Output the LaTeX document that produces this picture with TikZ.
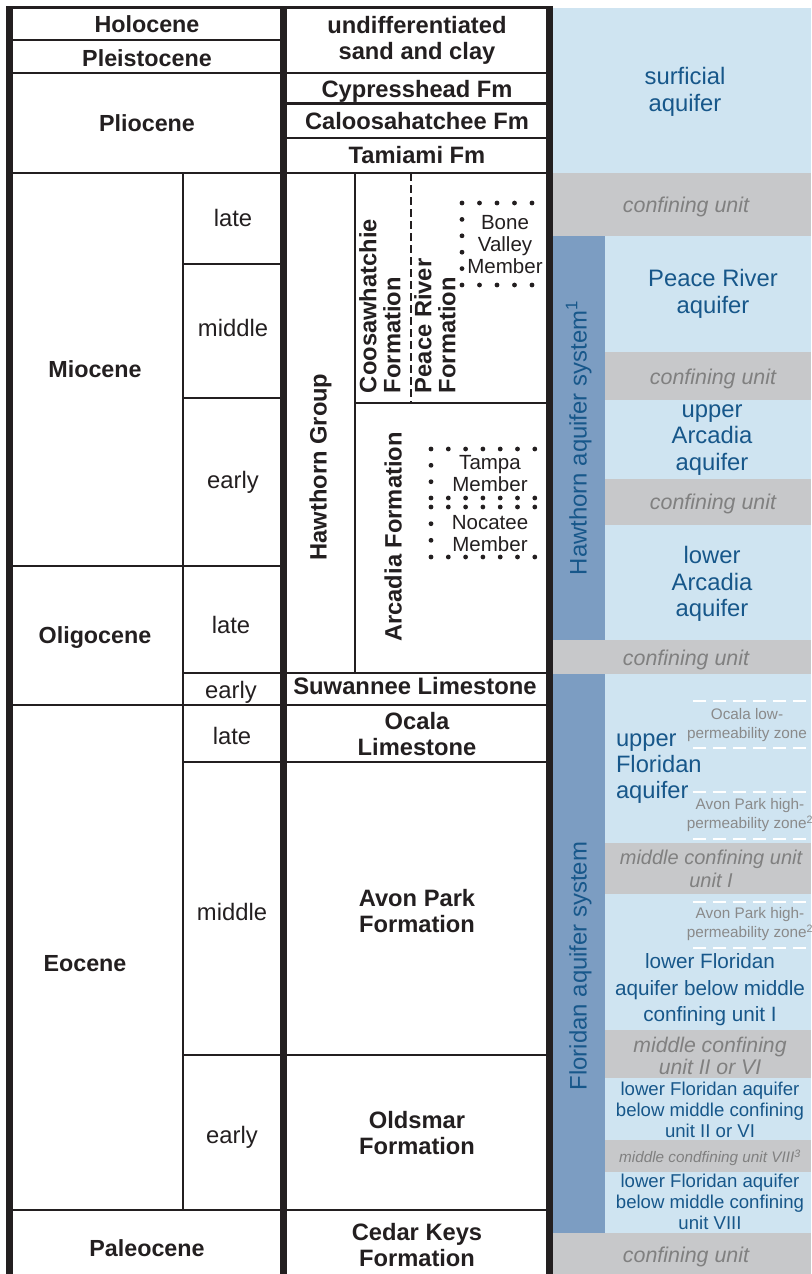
\documentclass[tikz,border=0pt]{standalone}
\usepackage{fontspec}
\setmainfont{Liberation Sans}
\definecolor{ink}{HTML}{231F20}
\definecolor{lb}{HTML}{CFE4F1}
\definecolor{gy}{HTML}{C7C8CA}
\definecolor{barc}{HTML}{7C9DC2}
\definecolor{aqb}{HTML}{17578A}
\definecolor{cgy}{HTML}{808080}
\definecolor{zgy}{HTML}{8A8A8A}
\tikzset{
  every node/.style={inner sep=0pt, outer sep=0pt, text=ink},
  epoch/.style={font=\fontsize{23.3}{27}\selectfont\bfseries, text height=16.7pt, text depth=0pt},
  fmone/.style={font=\fontsize{23.7}{27}\selectfont\bfseries, text height=17pt, text depth=0pt},
  fmtwo/.style={font=\fontsize{23.7}{26}\selectfont\bfseries, align=center},
  fmrot/.style={font=\fontsize{23.7}{24}\selectfont\bfseries, align=left, rotate=90, anchor=west},
  subep/.style={font=\fontsize{23.8}{27}\selectfont, text height=17pt, text depth=0pt},
  memb/.style={font=\fontsize{20.5}{22}\selectfont, align=center},
  aq/.style={font=\fontsize{23.8}{26.5}\selectfont, text=aqb, align=center},
  aqsys/.style={font=\fontsize{23.9}{27}\selectfont, text=aqb, rotate=90, text height=17pt, text depth=0pt},
  conf/.style={font=\fontsize{21.4}{24}\selectfont\itshape, text=cgy, text height=15.4pt, text depth=0pt},
  conftwo/.style={font=\fontsize{#1}{22.5}\selectfont\itshape, text=cgy, align=center},
  zone/.style={font=\fontsize{15.3}{19}\selectfont, text=zgy, align=center},
  lfl/.style={font=\fontsize{18.6}{21}\selectfont, text=aqb, align=center},
  major/.style={draw=ink, line width=2.8pt},
  minor/.style={draw=ink, line width=2pt},
  thickv/.style={draw=ink, line width=7pt},
  wdash/.style={draw=white, line width=2.6pt, dash pattern=on 13pt off 7pt},
  dot/.style={fill=ink}
}
\begin{document}
\begin{tikzpicture}[x=1pt,y=-1pt]
\useasboundingbox (0,0) rectangle (811,1274);
% ---------- hydrogeologic column fills
\fill[lb] (552,8) rectangle (811,173);
\fill[gy] (552,173) rectangle (811,236);
\fill[barc] (552,236) rectangle (605,640);
\fill[lb] (605,236) rectangle (811,352);
\fill[gy] (605,352) rectangle (811,400);
\fill[lb] (605,400) rectangle (811,479);
\fill[gy] (605,479) rectangle (811,525);
\fill[lb] (605,525) rectangle (811,640);
\fill[gy] (552,640) rectangle (811,674);
\fill[barc] (552,674) rectangle (605,1233);
\fill[lb] (605,674) rectangle (811,843);
\fill[gy] (605,843) rectangle (811,894);
\fill[lb] (605,894) rectangle (811,1030);
\fill[gy] (605,1030) rectangle (811,1078);
\fill[lb] (605,1078) rectangle (811,1140);
\fill[gy] (605,1140) rectangle (811,1172);
\fill[lb] (605,1172) rectangle (811,1233);
\fill[gy] (552,1233) rectangle (811,1280);
% white dashed zone limits
\draw[wdash] (693,701) -- (811,701);
\draw[wdash] (693,748) -- (811,748);
\draw[wdash] (693,792) -- (811,792);
\draw[wdash] (693,839) -- (811,839);
\draw[wdash] (693,902) -- (811,902);
\draw[wdash] (693,948) -- (811,948);
% ---------- grid lines
\draw[ink, line width=3pt] (6,7.3) -- (552.5,7.3);
\draw[major] (10,40) -- (283,40);
\draw[major] (10,73) -- (549,73);
\draw[major] (283,103.5) -- (549,103.5);
\draw[major] (283,138) -- (549,138);
\draw[major] (10,173) -- (549,173);
\draw[major] (10,566) -- (283,566);
\draw[major] (10,705) -- (549,705);
\draw[major] (10,1210) -- (549,1210);
\draw[minor] (183,173) -- (183,1210);
\draw[minor] (183,264) -- (283,264);
\draw[minor] (183,398) -- (283,398);
\draw[minor] (183,672.5) -- (549,672.5);
\draw[minor] (183,762) -- (549,762);
\draw[minor] (183,1055) -- (549,1055);
\draw[minor] (355,173) -- (355,672.5);
\draw[minor] (355,402.5) -- (549,402.5);
\draw[ink, line width=2pt, dash pattern=on 8pt off 4pt] (411,173) -- (411,402.5);
\draw[ink, line width=6.5pt] (9.5,6) -- (9.5,1280);
\draw[thickv] (283,6) -- (283,1280);
\draw[thickv] (549,6) -- (549,1280);
% ---------- dotted member boxes
\foreach \x in {462,479.5,497,514.5,532} {\fill[dot] (\x,203) circle (2.4); \fill[dot] (\x,285) circle (2.4);}
\foreach \y in {219.4,235.8,252.2,268.6} {\fill[dot] (462,\y) circle (2.4);}
\foreach \k in {0,...,6} {
  \fill[dot] (431+17.3*\k,449) circle (2.4);
  \fill[dot] (431+17.3*\k,498) circle (2.4);
  \fill[dot] (431+17.3*\k,507) circle (2.4);
  \fill[dot] (431+17.3*\k,557) circle (2.4);}
\foreach \y in {465.3,481.7,523.7,540.3} {\fill[dot] (431,\y) circle (2.4);}
% ---------- epochs
\node[epoch] (holo) at (147,24.5) {Holocene};
\node[epoch] (pleis) at (147,58) {Pleistocene};
\node[epoch] (plio) at (147,123) {Pliocene};
\node[epoch] (mio) at (95,369) {Miocene};
\node[epoch] (oligo) at (95,635) {Oligocene};
\node[epoch] (eoc) at (85,963) {Eocene};
\node[epoch] (paleo) at (147,1248) {Paleocene};
% ---------- sub-epochs
\node[subep] (mlate) at (233,218) {late};
\node[subep] (mmid) at (233,328) {middle};
\node[subep] (mearly) at (233,480) {early};
\node[subep] (olate) at (231,625) {late};
\node[subep] (oearly) at (231,690) {early};
\node[subep] (elate) at (232,736) {late};
\node[subep] (emid) at (232,912) {middle};
\node[subep] (eearly) at (232,1135) {early};
% ---------- formations
\node[fmtwo] (undiff) at (417,40) {undifferentiated\\sand and clay};
\node[fmone] (cyp) at (417,88.5) {Cypresshead Fm};
\node[fmone] (calo) at (417,121) {Caloosahatchee Fm};
\node[fmone] (tami) at (417,155) {Tamiami Fm};
\node[fmone, rotate=90] (hgrp) at (318,467) {Hawthorn Group};
\node[fmrot] (coosa) at (380,393) {Coosawhatchie\\Formation};
\node[fmrot] (peacef) at (435,393) {Peace River\\Formation};
\node[memb] (bone) at (505,245) {Bone\\Valley\\Member};
\node[fmone, rotate=90] (arca) at (393,537) {Arcadia Formation};
\node[memb] (tampa) at (490,474) {Tampa\\Member};
\node[memb] (noca) at (490,534) {Nocatee\\Member};
\node[fmone, font=\fontsize{23.8}{27}\selectfont\bfseries] (suw) at (415,686) {Suwannee Limestone};
\node[fmtwo] (ocala) at (417,734) {Ocala\\Limestone};
\node[fmtwo] (avon) at (417,911) {Avon Park\\Formation};
\node[fmtwo] (olds) at (417,1133) {Oldsmar\\Formation};
\node[fmtwo] (cedar) at (417,1245) {Cedar Keys\\Formation};
% ---------- hydrogeologic units
\node[aq] (surf) at (685,92) {surficial\\aquifer};
\node[conf] (conf1) at (686,205) {confining unit};
\node[aqsys] (hasys) at (578,438) {Hawthorn aquifer system\textsuperscript{1}};
\node[aq] (praq) at (713,294) {Peace River\\aquifer};
\node[conf] (conf2) at (713,377) {confining unit};
\node[aq] (uarc) at (712,440) {upper\\Arcadia\\aquifer};
\node[conf] (conf3) at (713,502) {confining unit};
\node[aq] (larc) at (712,584) {lower\\Arcadia\\aquifer};
\node[conf] (conf4) at (686,658) {confining unit};
\node[aqsys] (fasys) at (578,966) {Floridan aquifer system};
\node[aq, align=left, anchor=west, font=\fontsize{23.7}{26}\selectfont] (ufl) at (616,769) {upper\\Floridan\\aquifer};
\node[zone] (ocz) at (747,725) {Ocala low-\\permeability zone};
\node[zone] (apz1) at (750,815) {Avon Park high-\\permeability zone\textsuperscript{2}};
\node[conftwo=20] (mcu1) at (711,869) {middle confining unit\\unit I};
\node[zone] (apz2) at (750,924) {Avon Park high-\\permeability zone\textsuperscript{2}};
\node[aq, font=\fontsize{20.7}{26.5}\selectfont] (lfl1) at (710,990) {lower Floridan\\aquifer below middle\\confining unit I};
\node[conftwo=21.2] (mcu2) at (710,1056) {middle confining\\unit II or VI};
\node[lfl] (lfl2) at (710,1110) {lower Floridan aquifer\\below middle confining\\unit II or VI};
\node[conf, font=\fontsize{15.3}{18}\selectfont\itshape, text height=11pt] (mcu8) at (710,1157) {middle condfining unit VIII\textsuperscript{3}};
\node[lfl] (lfl8) at (710,1202) {lower Floridan aquifer\\below middle confining\\unit VIII};
\node[conf] (conf5) at (686,1255) {confining unit};
\end{tikzpicture}
\end{document}
